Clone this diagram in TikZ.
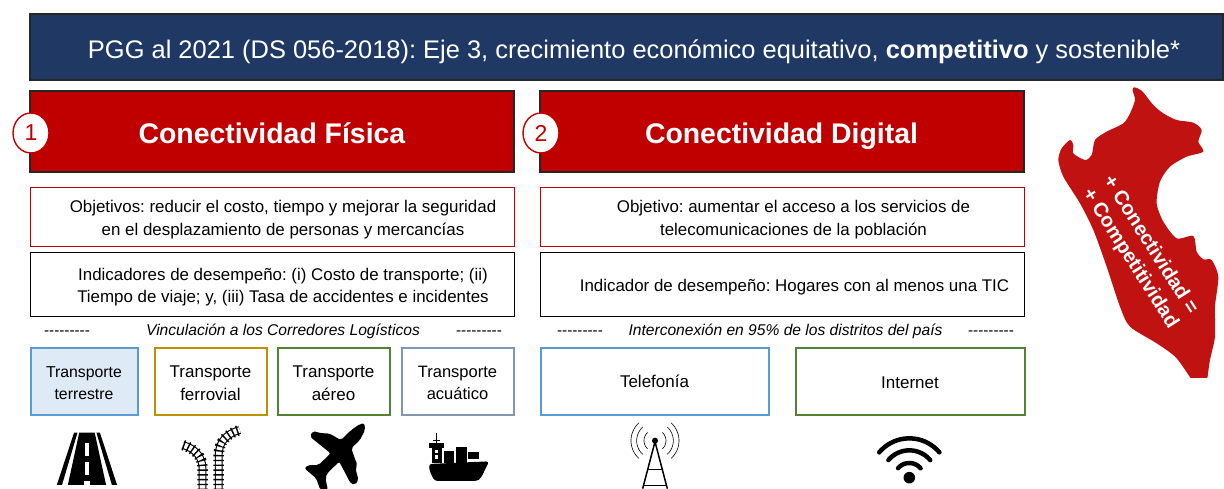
\documentclass[tikz,border=0pt]{standalone}
\usepackage{fontspec}
\usetikzlibrary{shapes.geometric}
\setmainfont{Liberation Sans}
\frenchspacing
\newcommand{\fsz}[2][22.5]{\fontsize{#2}{#1}\selectfont}
\newcommand{\hyph}{-\kern0pt-\kern0pt-\kern0pt-\kern0pt-\kern0pt-\kern0pt-\kern0pt-\kern0pt-}
\tikzset{
  x=1pt,y=-1pt,
  box/.style={draw=#1,line width=1pt,fill=white,inner sep=0pt,align=center,text=black},
  head/.style={draw=black!85,line width=1.2pt,fill=redd,inner sep=0pt,text=white},
  trans/.style={draw=#1,line width=2pt,fill=white,inner sep=0pt,minimum height=67pt},
  num/.style={ellipse,draw=redd,line width=1.4pt,fill=white,text=redd,minimum width=36pt,minimum height=40pt,inner sep=0pt},
  lbl/.style={inner sep=0pt,text=black},
  bodyt/.style={lbl,align=center,font=\fsz{16.9}},
  dashrow/.style={lbl,font=\fsz{15.3}},
  itrow/.style={lbl,font=\fsz{15.6}\itshape},
  rail/.style={line width=1.1pt,draw=black,double=white,double distance=5.6pt},
  ties/.style={line width=10.5pt,draw=black,dash pattern=on 1.4pt off 3.4pt},
  thinarc/.style={black,line width=0.6pt,smooth,samples=16,variable=\t},
  wifiarc/.style={black,line width=4.5pt,line cap=round,smooth,samples=20,variable=\t},
}
\definecolor{navy}{HTML}{1F3864}
\definecolor{redd}{HTML}{C00000}
\definecolor{mapred}{HTML}{C01210}
\definecolor{bluee}{HTML}{5B9BD5}
\definecolor{goldd}{HTML}{BF9000}
\definecolor{greenn}{HTML}{548235}
\definecolor{slate}{HTML}{8497B0}
\definecolor{paleblue}{HTML}{DEEAF6}
\begin{document}
\begin{tikzpicture}
\useasboundingbox (0,0) rectangle (1224,488);
\clip (0,0) rectangle (1224,488);
% header
\node[draw=black!85,line width=1.2pt,fill=navy,text=white,inner sep=0pt,minimum width=1193pt,minimum height=66pt] (hdr) at (626.5,47) {};
\node[inner sep=0pt,text=white,anchor=base] (hdrt) at (634,58) {\fsz{25.45}PGG al 2021 (DS 056-2018): Eje 3, crecimiento económico equitativo, \textbf{competitivo} y sostenible*};
% red heads
\node[head,minimum width=484pt,minimum height=81pt] (h1) at (272,131.5) {};
\node[inner sep=0pt,text=white,anchor=base] (h1t) at (272,143) {\fsz{28.4}\textbf{Conectividad Física}};
\node[head,minimum width=484pt,minimum height=81pt] (h2) at (782,131.5) {};
\node[inner sep=0pt,text=white,anchor=base] (h2t) at (781.5,143) {\fsz{28.4}\textbf{Conectividad Digital}};
\node[num] (n1) at (31,133) {\fsz{23}1};
\node[num] (n2) at (541,133) {\fsz{23}2};
% objective boxes
\node[box=redd,minimum width=484pt,minimum height=59pt] (o1) at (272,216.5) {};
\node[bodyt] (o1t) at (283,219.5) {Objetivos: reducir el costo, tiempo y mejorar la seguridad\\en el desplazamiento de personas y mercancías};
\node[box=redd,minimum width=484pt,minimum height=59pt] (o2) at (782,216.5) {};
\node[bodyt] (o2t) at (793.5,219.5) {Objetivo: aumentar el acceso a los servicios de\\telecomunicaciones de la población};
% indicator boxes
\node[box=black,minimum width=484pt,minimum height=64pt] (i1) at (272,284) {};
\node[bodyt] (i1t) at (283,287) {Indicadores de desempeño: (i) Costo de transporte; (ii)\\Tiempo de viaje; y, (iii) Tasa de accidentes e incidentes};
\node[box=black,minimum width=484pt,minimum height=64pt] (i2) at (782,284) {};
\node[bodyt] (i2t) at (794.5,287) {Indicador de desempeño: Hogares con al menos una TIC};
% separators
\node[dashrow] (d1) at (67,333) {\hyph};
\node[itrow] (v1) at (283,331) {Vinculación a los Corredores Logísticos};
\node[dashrow] (d2) at (479,333) {\hyph};
\node[dashrow] (d3) at (580,333) {\hyph};
\node[itrow] (v2) at (785.5,331) {Interconexión en 95\% de los distritos del país};
\node[dashrow] (d4) at (991,333) {\hyph};
% transport boxes
\node[trans=bluee,fill=paleblue,minimum width=107pt] (t1) at (84,381) {};
\node[lbl,align=center,font=\fsz{15.8}] (t1t) at (84,383) {Transporte\\terrestre};
\node[trans=goldd,minimum width=112pt] (t2) at (210.5,381) {};
\node[lbl,align=center,font=\fsz{17}] (t2t) at (210.5,383) {Transporte\\ferrovial};
\node[trans=greenn,minimum width=112pt] (t3) at (333.5,381) {};
\node[lbl,align=center,font=\fsz{17}] (t3t) at (333.5,383) {Transporte\\aéreo};
\node[trans=slate,minimum width=112pt] (t4) at (457.5,381) {};
\node[lbl,align=center,font=\fsz{16.5}] (t4t) at (457.5,383) {Transporte\\acuático};
\node[trans=bluee,minimum width=228pt] (t5) at (654.5,381) {};
\node[lbl,font=\fsz{17}] (t5t) at (654.5,381) {Telefonía};
\node[trans=greenn,minimum width=229pt] (t6) at (910,381) {};
\node[lbl,font=\fsz{17}] (t6t) at (910,383) {Internet};
% icons from road to ship
\begin{scope}[shift={(0,400)},x=0.3444pt,y=-0.3333pt]
  % road
  \fill[black] (165,255)--(215,98)--(225,98)--(180,255)--cycle;
  \fill[black] (340,255)--(290,98)--(280,98)--(325,255)--cycle;
  \fill[black] (197,255)--(230,98)--(275,98)--(308,255)--cycle;
  \fill[white] (246,130) rectangle (258,168);
  \fill[white] (246,185) rectangle (258,225);
  \fill[white] (243,243) rectangle (261,255);
  % rails
  \draw[rail] (588,270)--(588,205) .. controls (588,170) and (565,145) .. (531,135);
  \draw[ties] (588,270)--(588,205) .. controls (588,170) and (565,145) .. (531,135);
  \draw[rail] (635,270)--(635,165) .. controls (635,125) and (660,100) .. (696,90);
  \draw[ties] (635,270)--(635,165) .. controls (635,125) and (660,100) .. (696,90);
  % plane
  \fill[black,rounded corners=2pt] (1058,70)--(1060,90)--(1045,120)--(1020,145)--(1030,175)--(1038,195)--(1032,205)--(1041,240)--(1030,255)--(1018,250)--(985,185)--(950,220)--(945,235)--(952,270)--(930,270)--(918,235)--(884,205)--(895,195)--(925,195)--(960,160)--(900,110)--(908,93)--(935,100)--(955,100)--(990,120)--(1020,90)--(1045,72)--cycle;
  % ship
  \fill[black] (1265.5,98) rectangle (1269.5,130);
  \fill[black] (1257,120) rectangle (1278,124);
  \fill[black] (1245,130) rectangle (1288,143);
  \fill[black] (1253,143) rectangle (1283,188);
  \fill[white] (1264,150) rectangle (1272,160);
  \fill[white] (1264,165) rectangle (1272,176);
  \fill[black] (1290,153) rectangle (1318,188);
  \fill[black] (1325,142) rectangle (1355,188);
  \fill[black] (1360,155) rectangle (1390,178);
  \fill[black,rounded corners=3pt] (1245,192)--(1420,184)--(1396,235)--(1385,243)--(1262,243)--(1248,215)--cycle;
\end{scope}
% tower and wifi
\begin{scope}[shift={(600,410)},x=0.3333pt,y=-0.3333pt]
  \fill[black] (165,92) circle[radius=3pt];
  \draw[black,line width=1.5pt] (165,95)--(128,236) (165,95)--(202,236);
  \draw[black,line width=1.2pt] (145,178)--(185,178) (133,226)--(197,226);
  \foreach \r in {33,55,72}{
    \draw[thinarc,domain=132:228] plot ({165+\r*cos(\t)},{92-\r*sin(\t)});
    \draw[thinarc,domain=-48:48] plot ({165+\r*cos(\t)},{92-\r*sin(\t)});
  }
  \fill[black] (928,203) circle[radius=5.8pt];
  \foreach \r in {44,82,118}{
    \draw[wifiarc,domain=40:140] plot ({928+\r*cos(\t)},{203-\r*sin(\t)});
  }
\end{scope}
% map
\begin{scope}
  \clip (1040,80) rectangle (1224,377);
  \begin{scope}[shift={(1030,80)},x=0.3333pt,y=-0.3333pt]
    \fill[mapred] plot[smooth cycle,tension=0.45] coordinates {(312,22)(335,32)(370,75)(400,100)(440,120)(490,128)(515,150)(505,185)(520,215)(470,230)(420,260)(390,305)(380,370)(400,425)(440,475)(490,468)(500,515)(520,538)(545,540)(565,590)(555,680)(555,770)(540,840)(525,930)(500,920)(440,835)(380,790)(300,740)(270,680)(230,560)(190,450)(150,370)(100,290)(85,240)(95,205)(120,180)(130,195)(130,220)(165,240)(185,225)(195,180)(230,155)(280,130)(300,100)(315,60)(308,32)};
  \end{scope}
\end{scope}
\node[inner sep=0pt,text=white,rotate=-57.5,align=center,font={\fsz[24]{20}\bfseries}] (mapt) at (1140,252) {+ Conectividad =\\+ Competitividad};
\end{tikzpicture}
\end{document}
